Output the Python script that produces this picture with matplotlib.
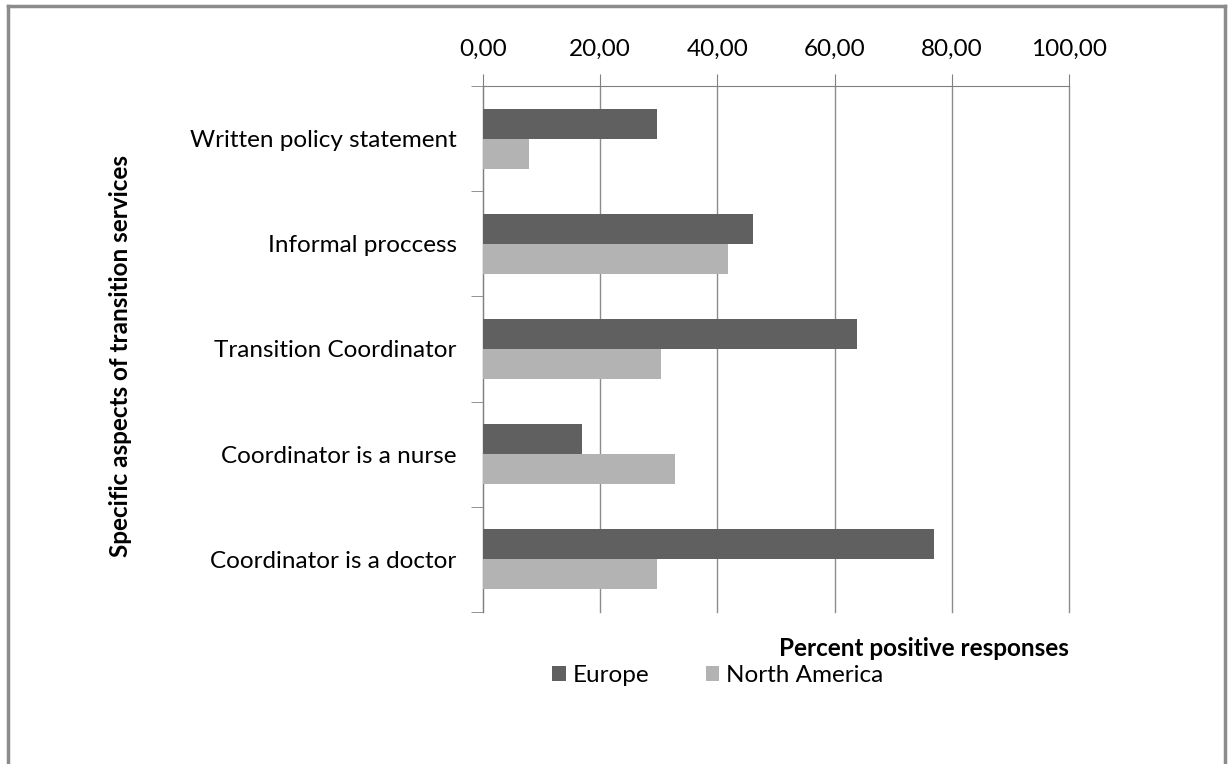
import matplotlib.pyplot as plt
from matplotlib.lines import Line2D
from matplotlib.ticker import FuncFormatter

categories = ["Written policy statement", "Informal proccess", "Transition Coordinator",
              "Coordinator is a nurse", "Coordinator is a doctor"]
europe = [29.7, 46.1, 63.8, 16.9, 77.0]
north_america = [7.9, 41.8, 30.4, 32.8, 29.7]
series_names = ["Europe", "North America"]

plt.rcParams['font.family'] = ['Lato', 'DejaVu Sans']
fs = 17.5

fig = plt.figure(figsize=(12.28, 7.64), dpi=100)
ax = fig.add_axes([0.3933, 0.1990, 0.4772, 0.6885])

n = len(categories)
pos = list(range(n))
h = 0.285
ax.barh([p - h / 2 for p in pos], europe, height=h, color='#606060', label=series_names[0], zorder=3)
ax.barh([p + h / 2 for p in pos], north_america, height=h, color='#b3b3b3', label=series_names[1], zorder=3)

ax.set_ylim(n - 0.5, -0.5)
ax.set_xlim(0, 100)
ax.set_yticks(pos)
ax.set_yticklabels(categories, fontsize=fs)
ax.set_yticks([p - 0.5 for p in range(n + 1)], minor=True)
ax.tick_params(axis='y', which='major', length=0, pad=19)
ax.tick_params(axis='y', which='minor', length=9, color='#808080')

ax.xaxis.tick_top()
ax.set_xticks([0, 20, 40, 60, 80, 100])
ax.xaxis.set_major_formatter(FuncFormatter(lambda v, p: f"{v:.2f}".replace('.', ',')))
ax.tick_params(axis='x', length=9, color='#808080', labelsize=fs, pad=10)
ax.grid(axis='x', color='#8c8c8c', linewidth=1, zorder=0)
for gl in ax.get_xgridlines():
    gl.set_clip_on(False)

for s in ['right', 'bottom']:
    ax.spines[s].set_visible(False)
ax.spines['top'].set_color('#808080')
ax.spines['left'].set_color('#808080')

fig.text(0.8705, 0.151, "Percent positive responses", ha='right', va='center',
         fontsize=fs, fontweight='bold')
fig.text(0.098, 0.534, "Specific aspects of transition services", ha='center', va='center',
         rotation=90, fontsize=fs, fontweight='bold')

ax.legend(loc='center', bbox_to_anchor=(0.5847, 0.116), bbox_transform=fig.transFigure,
          ncol=2, frameon=False, fontsize=fs, handlelength=0.55, handleheight=0.55,
          handletextpad=0.3, columnspacing=2.3)

# outer chart frame
frame_kw = dict(color='#8c8c8c', linewidth=2.5, transform=fig.transFigure)
fig.add_artist(Line2D([0.0065, 0.0065], [0.0, 0.9925], **frame_kw))
fig.add_artist(Line2D([0.0065, 0.9975], [0.9925, 0.9925], **frame_kw))
fig.add_artist(Line2D([0.9975, 0.9975], [0.0, 0.9925], **frame_kw))

fig.savefig("out.png", dpi=100)
